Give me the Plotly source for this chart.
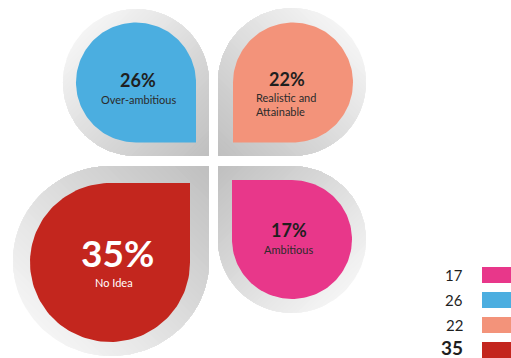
import math
import plotly.graph_objects as go

# Survey answers
labels = ["Ambitious", "Over-ambitious", "Realistic and\nAttainable", "No Idea"]
values = [17, 26, 22, 35]
colors = ["#E8378A", "#4BAEE0", "#F3937A", "#C3261E"]

W, H = 511, 358

# Tile geometry in pixel units: inner drop (cx, cy, rx, ry), square corner,
# gray frame (cx, cy, rx, ry), and where the two text lines sit.
tiles = {
    "Over-ambitious": dict(inner=(136, 82.5, 60, 60), corner="br",
                           outer=(136, 82.5, 73, 73.5),
                           pct=(138, 80, 18), lab=(138, 99, 11), dark=False),
    "Realistic and\nAttainable": dict(inner=(293, 82.5, 60, 60), corner="bl",
                                      outer=(292, 82, 74, 74),
                                      pct=(287, 79, 18), lab=(286, 104, 11), dark=False),
    "No Idea": dict(inner=(110, 262.5, 80, 79.5), corner="tr",
                    outer=(111, 261, 98, 95),
                    pct=(117, 252, 37), lab=(114, 282, 11), dark=True),
    "Ambitious": dict(inner=(292, 239.5, 60, 59.5), corner="tl",
                      outer=(292, 239.5, 74, 73.5),
                      pct=(289, 230, 18), lab=(288, 249, 11), dark=False),
}

ARC = {"br": (90, 360), "bl": (180, 450), "tl": (270, 540), "tr": (0, 270)}
CORNER_DIR = {"br": (1, 1), "bl": (-1, 1), "tl": (-1, -1), "tr": (1, -1)}


def drop(cx, cy, rx, ry, corner, n=120):
    a0, a1 = ARC[corner]
    pts = []
    for i in range(n + 1):
        a = math.radians(a0 + (a1 - a0) * i / n)
        pts.append((cx + rx * math.cos(a), cy + ry * math.sin(a)))
    dx, dy = CORNER_DIR[corner]
    pts.append((cx + dx * rx, cy + dy * ry))
    return pts


def clip(poly, d, t):
    # keep the part of a convex polygon where d.p >= t
    out = []
    n = len(poly)
    for i in range(n):
        p, q = poly[i], poly[(i + 1) % n]
        fp = p[0] * d[0] + p[1] * d[1] - t
        fq = q[0] * d[0] + q[1] * d[1] - t
        if fp >= 0:
            out.append(p)
        if (fp >= 0) != (fq >= 0):
            s = fp / (fp - fq)
            out.append((p[0] + (q[0] - p[0]) * s, p[1] + (q[1] - p[1]) * s))
    return out


def gray(f, light=244, dark=192):
    v = round(light + (dark - light) * f)
    return f"rgb({v},{v},{v})"


fig = go.Figure()

for name, val, col in zip(labels, values, colors):
    t = tiles[name]
    # gray frame with a diagonal shade that darkens toward the square corner
    frame = drop(*t["outer"], t["corner"])
    d = CORNER_DIR[t["corner"]]
    proj = [p[0] * d[0] + p[1] * d[1] for p in frame]
    lo, hi = min(proj), max(proj)
    steps = 48
    for k in range(steps):
        f = k / (steps - 1)
        piece = frame if k == 0 else clip(frame, d, lo + (hi - lo) * f * 0.98)
        if len(piece) < 3:
            continue
        xs = [p[0] for p in piece] + [piece[0][0]]
        ys = [p[1] for p in piece] + [piece[0][1]]
        fig.add_trace(go.Scatter(x=xs, y=ys, fill="toself", mode="lines",
                                 line=dict(width=0), fillcolor=gray(f),
                                 hoverinfo="skip", showlegend=False))
    # coloured drop
    body = drop(*t["inner"], t["corner"])
    xs = [p[0] for p in body] + [body[0][0]]
    ys = [p[1] for p in body] + [body[0][1]]
    fig.add_trace(go.Scatter(x=xs, y=ys, fill="toself", mode="lines",
                             line=dict(width=0), fillcolor=col,
                             hoverinfo="skip", showlegend=False))

    txt_main = "white" if t["dark"] else "#1f1f1f"
    txt_sub = "white" if t["dark"] else "#2b2b2b"
    px, py, ps = t["pct"]
    fig.add_annotation(x=px, y=py, text=f"<b>{val}%</b>", showarrow=False,
                       xanchor="center", yanchor="middle",
                       font=dict(family="Lato", size=ps, color=txt_main))
    lx, ly, ls = t["lab"]
    fig.add_annotation(x=lx, y=ly, text=name.replace("\n", "<br>"), showarrow=False,
                       xanchor="center", yanchor="middle", align="left",
                       font=dict(family="Lato", size=ls, color=txt_sub))

# legend: value on the left, colour swatch on the right
legend_y = [275, 299.5, 324.5, 350]
fig.add_trace(go.Bar(y=legend_y, x=[30] * len(values), base=482, width=16,
                     orientation="h", marker=dict(color=colors, line=dict(width=0)),
                     hoverinfo="skip", showlegend=False))
top = max(values)
for v, y in zip(values, legend_y):
    big = v == top
    fig.add_annotation(x=465, y=y - 3 if big else y, text=f"<b>{v}</b>" if big else str(v),
                       showarrow=False, xanchor="right", yanchor="middle",
                       font=dict(family="Lato", size=19 if big else 15, color="#1f1f1f"))

fig.update_layout(
    width=W, height=H, autosize=False,
    margin=dict(l=0, r=0, t=0, b=0),
    paper_bgcolor="white", plot_bgcolor="white",
    xaxis=dict(range=[0, W], visible=False, fixedrange=True),
    yaxis=dict(range=[H, 0], visible=False, fixedrange=True),
    bargap=0,
)

fig.write_html("out.html")
